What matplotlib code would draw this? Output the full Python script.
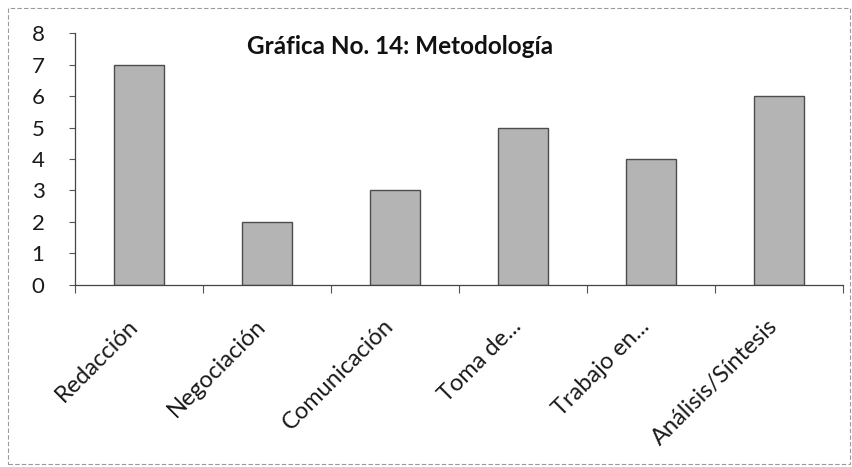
import matplotlib
matplotlib.use("Agg")
import matplotlib.pyplot as plt
import matplotlib.transforms as mtransforms
from matplotlib.patches import Rectangle
import numpy as np

plt.rcParams["font.family"] = ["Lato", "DejaVu Sans"]

# data
categories = [
    "Redacción",
    "Negociación",
    "Comunicación",
    "Toma de...",
    "Trabajo en...",
    "Análisis/Síntesis",
]
values = [7, 2, 3, 5, 4, 6]
title = "Gráfica No. 14: Metodología"

fig = plt.figure(figsize=(8.53, 4.67), dpi=100)
ax = fig.add_axes([0.088, 0.390, 0.900, 0.539])

x = np.arange(len(categories))
ax.bar(
    x,
    values,
    width=0.39,
    color="#b4b4b4",
    edgecolor="#4d4d4d",
    linewidth=1.0,
    zorder=2,
)

ax.set_xlim(-0.5, len(categories) - 0.5)
ax.set_ylim(0, 8)
ax.set_yticks(range(0, 9))

# labels at category centers, tick marks at the boundaries
ax.set_xticks(x)
ax.set_xticklabels(categories, rotation=45, ha="right", va="top",
                   rotation_mode="anchor")
ax.set_xticks(np.arange(-0.5, len(categories)), minor=True)
ax.tick_params(axis="x", which="major", length=0, pad=22, labelsize=17,
               labelcolor="#1a1a1a")
ax.tick_params(axis="x", which="minor", length=6, width=0.8, color="#555555",
               direction="out")
ax.tick_params(axis="y", length=4, width=0.8, color="#555555", pad=18,
               labelsize=16, labelcolor="#1a1a1a")

shift = mtransforms.ScaledTranslation(-12 / 100, 0, fig.dpi_scale_trans)
for lbl in ax.get_xticklabels():
    lbl.set_transform(lbl.get_transform() + shift)

for side in ["top", "right"]:
    ax.spines[side].set_visible(False)
for side in ["left", "bottom"]:
    ax.spines[side].set_color("#444444")
    ax.spines[side].set_linewidth(0.9)

fig.text(400 / 853, 1 - 47 / 467, title, ha="center", va="center",
         fontsize=17.5, fontweight="bold", color="#111111")

# outer chart frame
fig.patches.append(
    Rectangle((8 / 853, 3 / 467), 842 / 853, 456 / 467,
              transform=fig.transFigure, fill=False,
              edgecolor="#9a9a9a", linewidth=0.8, linestyle=(0, (4, 2)))
)

fig.savefig("out.png", dpi=100)
